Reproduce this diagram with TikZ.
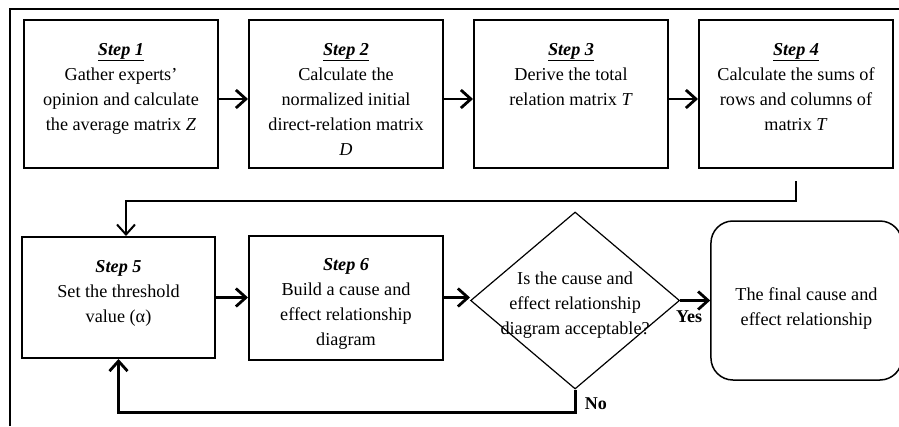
\documentclass[tikz,border=0pt]{standalone}
\usepackage{fontspec}
\setmainfont{Liberation Serif}
\usetikzlibrary{arrows.meta,positioning,shapes.geometric}
\tikzset{
  stepbox/.style={draw,line width=2pt,minimum width=194pt,minimum height=148pt,inner sep=0pt},
  txt/.style={align=center,inner sep=3pt,font=\fontsize{18.2}{25}\selectfont},
  steptext/.style={txt,anchor=north,yshift=-21pt},
  flow/.style={-{Straight Barb[length=10pt,width=18pt]},line width=2.8pt},
  thinflow/.style={-{Straight Barb[length=10pt,width=18pt]},line width=2pt},
  lbl/.style={font=\fontsize{18}{20}\selectfont\bfseries}
}
\newcommand{\stepu}[1]{\textbf{\textit{\underline{Step #1}}}}
\newcommand{\stepn}[1]{\textbf{\textit{Step #1}}}
\begin{document}
\begin{tikzpicture}[x=1pt,y=-1pt,node distance=29pt]
  \useasboundingbox (0,0) rectangle (899,426);
  \draw[line width=2.6pt] (10,426) -- (10,9) -- (899,9);

  % top row
  \node[stepbox,label={[steptext]north:\stepu{1}\\Gather experts’\\opinion and calculate\\the average matrix \textit{Z}}] (s1) at (121,94) {};
  \node[stepbox,right=of s1,label={[steptext]north:\stepu{2}\\Calculate the\\normalized initial\\direct-relation matrix\\\textit{D}}] (s2) {};
  \node[stepbox,right=of s2,label={[steptext]north:\stepu{3}\\Derive the total\\relation matrix \textit{T}}] (s3) {};
  \node[stepbox,right=of s3,label={[steptext]north:\stepu{4}\\Calculate the sums of\\rows and columns of\\matrix \textit{T}}] (s4) {};

  % bottom row
  \node[stepbox,minimum width=193pt,minimum height=121pt,below=67pt of s1,xshift=-2.5pt,
        label={[steptext]north:\stepn{5}\\Set the threshold\\value (α)}] (s5) {};
  \node[stepbox,minimum height=124pt,right=32pt of s5,
        label={[steptext]north:\stepn{6}\\Build a cause and\\effect relationship\\diagram}] (s6) {};
  \node[diamond,draw,line width=1.2pt,minimum width=209pt,minimum height=177pt,inner sep=0pt,
        right=26pt of s6,yshift=-3pt,
        label={[txt,anchor=center,yshift=-5pt]center:Is the cause and\\effect relationship\\diagram acceptable?}] (dec) {};
  \node[draw,line width=1.5pt,rounded corners=22pt,minimum width=191pt,minimum height=159pt,
        right=30pt of dec,
        label={[txt,anchor=center,yshift=-8pt]center:The final cause and\\effect relationship}] (fin) {};

  \foreach \a/\b in {s1/s2,s2/s3,s3/s4}
    \draw[flow] ([yshift=-5pt]\a.east) -- ([yshift=-5pt]\b.west);
  \coordinate (c4) at ([yshift=-12pt]s4.south);
  \draw[thinflow] (c4) -- ++(0,-20pt) -| ([xshift=7.5pt]s5.north);
  \draw[flow] (s5) -- (s6);
  \draw[flow] (s6.east) -- (s6.east -| dec.west);
  \draw[flow] (dec.east) -- (dec.east -| fin.west) node[pos=0.3,below=5pt,lbl]{Yes};
  \draw[flow] (dec.south) -- ++(0,-23pt) node[pos=0.6,right=5pt,lbl]{No} -| (s5.south);
\end{tikzpicture}
\end{document}
